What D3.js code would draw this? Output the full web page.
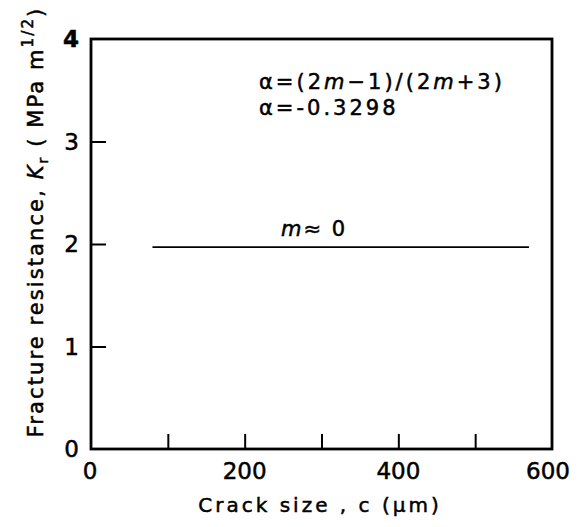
<!DOCTYPE html>
<html>
<head>
<meta charset="utf-8">
<script src="https://cdn.jsdelivr.net/npm/d3@7"></script>
<style>
  body { margin: 0; background: #fff; }
  text { font-family: "DejaVu Sans", sans-serif; fill: #000; stroke: #000; stroke-width: 0.5px; }
</style>
</head>
<body>
<svg width="581" height="527"></svg>
<script>
// data
var crackSize = [80, 570];          // um
var kr = [1.97, 1.97];              // MPa m^1/2
var xTickVals = [100, 200, 300, 400, 500];
var xLabelVals = [0, 200, 400, 600];
var yTickVals = [1, 2, 3];
var yLabelVals = [0, 1, 2, 3, 4];

var svg = d3.select("svg");

var x = d3.scaleLinear().domain([0, 600]).range([91, 552]);
var y = d3.scaleLinear().domain([0, 4]).range([449, 39]);

// frame
svg.append("rect")
  .attr("x", x(0)).attr("y", y(4))
  .attr("width", x(600) - x(0)).attr("height", y(0) - y(4))
  .attr("fill", "none").attr("stroke", "#000").attr("stroke-width", 2.8);

// inward ticks
svg.append("g")
  .attr("transform", "translate(0," + y(0) + ")")
  .call(d3.axisBottom(x).tickValues(xTickVals).tickSize(-15).tickFormat(""))
  .call(g => g.select(".domain").remove())
  .selectAll("line").attr("stroke-width", 2);

svg.append("g")
  .attr("transform", "translate(" + x(0) + ",0)")
  .call(d3.axisLeft(y).tickValues(yTickVals).tickSize(-15).tickFormat(""))
  .call(g => g.select(".domain").remove())
  .selectAll("line").attr("stroke-width", 2);

// tick labels (600 sits a little left of its position in the original)
svg.append("g").selectAll("text")
  .data(xLabelVals).enter().append("text")
  .attr("x", d => x(d) - (d == 0 ? 1 : d == 600 ? 4 : 0))
  .attr("y", 479)
  .attr("text-anchor", "middle")
  .style("font-size", "23px")
  .text(d => d);

svg.append("g").selectAll("text")
  .data(yLabelVals).enter().append("text")
  .attr("x", 79)
  .attr("y", d => y(d) + 8)
  .attr("text-anchor", "end")
  .style("font-size", "23px")
  .style("font-weight", d => d == 4 ? "bold" : "normal")
  .text(d => d);

// the data line
var line = d3.line().x(d => x(d[0])).y(d => y(d[1]));
svg.append("path")
  .datum(crackSize.map((c, i) => [c, kr[i]]))
  .attr("d", line)
  .attr("fill", "none").attr("stroke", "#000").attr("stroke-width", 1.6);

// annotations
var a1 = svg.append("text").attr("x", 259).attr("y", 89)
  .style("font-size", "21px").style("letter-spacing", "3px");
a1.append("tspan").text("\u03b1=(2");
a1.append("tspan").style("font-style", "italic").text("m");
a1.append("tspan").text("\u22121)/(2");
a1.append("tspan").style("font-style", "italic").text("m");
a1.append("tspan").text("+3)");

svg.append("text").attr("x", 259).attr("y", 115)
  .style("font-size", "21px").style("letter-spacing", "3px")
  .text("\u03b1=-0.3298");

var a3 = svg.append("text").attr("x", 281).attr("y", 236)
  .style("font-size", "21px").style("letter-spacing", "2px");
a3.append("tspan").style("font-style", "italic").text("m");
a3.append("tspan").text("\u2248 0");

// axis titles
svg.append("text").attr("x", 320).attr("y", 512)
  .attr("text-anchor", "middle")
  .style("font-size", "20px").style("letter-spacing", "3px")
  .text("Crack size , c (\u03bcm)");

var yt = svg.append("text")
  .attr("transform", "translate(43,222) rotate(-90)")
  .attr("text-anchor", "middle")
  .style("font-size", "21px").style("letter-spacing", "2.1px");
yt.append("tspan").text("Fracture resistance, ");
yt.append("tspan").style("font-style", "italic").text("K");
yt.append("tspan").attr("dy", 5).style("font-size", "14px").text("r");
yt.append("tspan").attr("dy", -5).text(" ( MPa m");
yt.append("tspan").attr("dy", -10).style("font-size", "15px").text("1/2");
yt.append("tspan").attr("dy", 10).text(")");
</script>
</body>
</html>
